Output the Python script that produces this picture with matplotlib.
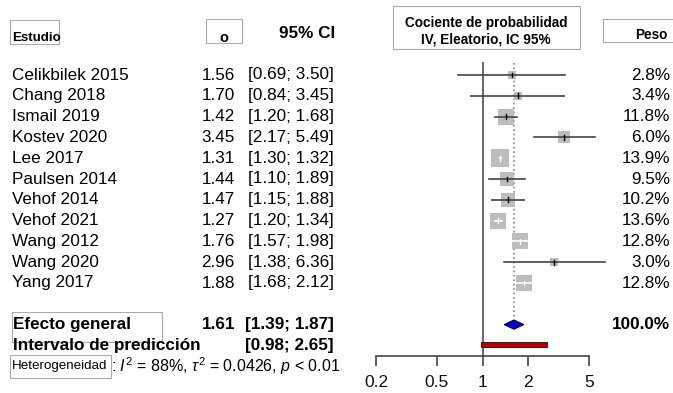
import matplotlib.pyplot as plt
import numpy as np
from matplotlib.patches import Rectangle
from matplotlib.transforms import blended_transform_factory

plt.rcParams['font.family'] = ['Liberation Sans', 'DejaVu Sans']
plt.rcParams['mathtext.fontset'] = 'custom'
plt.rcParams['mathtext.rm'] = 'Liberation Sans'
plt.rcParams['mathtext.it'] = 'Liberation Sans:italic'

studies = ['Celikbilek 2015', 'Chang 2018', 'Ismail 2019', 'Kostev 2020', 'Lee 2017',
           'Paulsen 2014', 'Vehof 2014', 'Vehof 2021', 'Wang 2012', 'Wang 2020', 'Yang 2017']
odds = [1.56, 1.70, 1.42, 3.45, 1.31, 1.44, 1.47, 1.27, 1.76, 2.96, 1.88]
ci_low = [0.69, 0.84, 1.20, 2.17, 1.30, 1.10, 1.15, 1.20, 1.57, 1.38, 1.68]
ci_high = [3.50, 3.45, 1.68, 5.49, 1.32, 1.89, 1.88, 1.34, 1.98, 6.36, 2.12]
weights = [2.8, 3.4, 11.8, 6.0, 13.9, 9.5, 10.2, 13.6, 12.8, 3.0, 12.8]

pooled = 1.61
pooled_ci = [1.39, 1.87]
pred_int = [0.98, 2.65]
xticks = [0.2, 0.5, 1, 2, 5]
xtick_labels = ['0.2', '0.5', '1', '2', '5']

W, H = 673, 393
fig = plt.figure(figsize=(W / 100, H / 100), dpi=100)

# pixel layout: row r sits at y = 75 + 20.8*r, log10 scale 152 px per decade, OR=1 at x=482.5
y0, dy = 75, 20.8
x1, ppd = 482.5, 152
ax_l, ax_r = 362, 610
ax = fig.add_axes([ax_l / W, 0, (ax_r - ax_l) / W, 1])
ax.set_xscale('log')
ax.set_xlim(10 ** ((ax_l - x1) / ppd), 10 ** ((ax_r - x1) / ppd))
ax.set_ylim((H - y0) / dy, -y0 / dy)
ax.patch.set_alpha(0)

tx = fig.add_axes([0, 0, 1, 1], zorder=-1)
tx.set_xlim(0, W)
tx.set_ylim(H, 0)
tx.axis('off')
tr = blended_transform_factory(tx.transData, ax.transData)

rows = np.arange(len(studies))
row_pool, row_pred, row_het = 12, 13, 14

# reference lines
ax.plot([1, 1], [-0.58, 13.5], color='#666666', lw=1.4, zorder=1)
ax.plot([pooled, pooled], [-0.58, 11.63], color='#888888', lw=1.2, ls=':', zorder=1)

# study squares + CIs
for r, o, lo, hi, w in zip(rows, odds, ci_low, ci_high, weights):
    side = 4.56 * np.sqrt(w)
    ax.scatter([o], [r], marker='s', s=(side * 0.72) ** 2, color='#bdbdbd', lw=0, zorder=2)
    ci_px = ppd * (np.log10(hi) - np.log10(lo))
    col = 'white' if ci_px < side else '#444444'
    ax.plot([lo, hi], [r, r], color=col, lw=1.2, zorder=3)
    ax.plot([o, o], [r - 0.12, r + 0.12], color='white' if col == 'white' else 'black', lw=1.0, zorder=4)

# pooled diamond
h = 0.22
ax.fill([pooled_ci[0], pooled, pooled_ci[1], pooled], [row_pool, row_pool - h, row_pool, row_pool + h],
        facecolor='#0000cc', edgecolor='#000033', lw=0.8, zorder=4)
# prediction interval
ax.barh(row_pred - 0.05, pred_int[1] - pred_int[0], left=pred_int[0], height=0.24,
        color='#b30000', edgecolor='#330000', lw=0.6, zorder=4)

# x axis
for s in ['top', 'left', 'right']:
    ax.spines[s].set_visible(False)
ax.spines['bottom'].set_position(('data', 13.5))
ax.spines['bottom'].set_bounds(xticks[0], xticks[-1])
ax.spines['bottom'].set_color('#444444')
ax.spines['bottom'].set_linewidth(1.2)
ax.set_xticks(xticks)
ax.set_xticklabels(xtick_labels)
ax.xaxis.set_minor_locator(plt.NullLocator())
ax.tick_params(axis='x', direction='out', length=7, width=1.2, color='#444444',
               labelsize=12.5, pad=7, labelcolor='#111111')
ax.set_yticks([])

# text columns
fs = 12.3
for r, name, o, lo, hi, w in zip(rows, studies, odds, ci_low, ci_high, weights):
    tx.text(12, r, name, transform=tr, fontsize=fs, va='center', ha='left')
    tx.text(235, r, f'{o:.2f}', transform=tr, fontsize=fs, va='center', ha='right')
    tx.text(334, r, f'[{lo:.2f}; {hi:.2f}]', transform=tr, fontsize=fs, va='center', ha='right')
    tx.text(670, r, f'{w:.1f}%', transform=tr, fontsize=fs, va='center', ha='right')

tx.text(13, row_pool, 'Efecto general', transform=tr, fontsize=fs, fontweight='bold', va='center')
tx.text(235, row_pool, f'{pooled:.2f}', transform=tr, fontsize=fs, fontweight='bold', va='center', ha='right')
tx.text(334, row_pool, f'[{pooled_ci[0]:.2f}; {pooled_ci[1]:.2f}]', transform=tr, fontsize=fs,
        fontweight='bold', va='center', ha='right')
tx.text(670, row_pool, '100.0%', transform=tr, fontsize=fs, fontweight='bold', va='center', ha='right')
tx.text(13, row_pred, 'Intervalo de predicción', transform=tr, fontsize=fs, fontweight='bold', va='center')
tx.text(334, row_pred, f'[{pred_int[0]:.2f}; {pred_int[1]:.2f}]', transform=tr, fontsize=fs,
        fontweight='bold', va='center', ha='right')
tx.text(12, row_het, 'Heterogeneidad', transform=tr, fontsize=9.6, va='center')
tx.text(111, row_het, r': $I^2$ = 88%, $\tau^2$ = 0.0426, $p$ < 0.01', transform=tr, fontsize=11.5, va='center')

# headers
tx.text(12, 38, 'Estudio', fontsize=9.6, fontweight='bold', va='center')
tx.text(224, 38, 'o', fontsize=10.5, fontweight='bold', va='center', ha='center')
tx.text(335, 34, '95% CI', fontsize=fs, fontweight='bold', va='center', ha='right')
tx.text(486, 23, 'Cociente de probabilidad', fontsize=9.8, fontweight='bold', va='center', ha='center')
tx.text(486, 39, 'IV, Eleatorio, IC 95%', fontsize=9.8, fontweight='bold', va='center', ha='center')
tx.text(668, 35, 'Peso', fontsize=9.8, fontweight='bold', va='center', ha='right')

# overlay boxes
box_kw = dict(fill=False, edgecolor='#aaaaaa', lw=0.8)
for (bx, by, bw, bh) in [(10, 20, 49, 24), (206, 19, 36, 24), (393, 6, 187, 43),
                         (603, 19, 75, 23), (12, 312, 150, 30), (10, 355, 101, 23)]:
    tx.add_patch(Rectangle((bx, by), bw, bh, **box_kw))

fig.savefig('out.png', dpi=100)
